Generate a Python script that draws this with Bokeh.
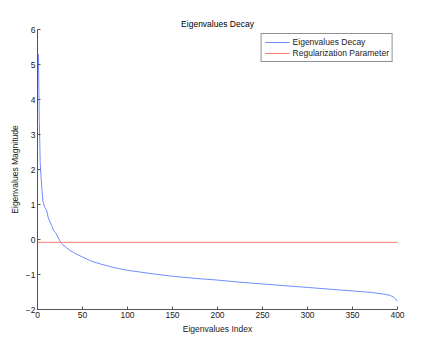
from bokeh.plotting import figure
from bokeh.models import FixedTicker, Range1d, Legend, LegendItem
from bokeh.embed import file_html
from bokeh.resources import INLINE

# Eigenvalue decay
eig_index = [1, 2, 3, 4, 5, 6, 8, 10, 12, 14, 16, 18, 20, 22, 25, 28, 32, 36, 40, 45,
             50, 60, 70, 80, 90, 100, 125, 150, 175, 200, 225, 250, 275, 300, 325,
             350, 370, 385, 392, 396, 398, 400]
eig_values = [5.3, 3.4, 2.2, 1.75, 1.4, 1.1, 0.92, 0.85, 0.62, 0.5, 0.38, 0.25, 0.2, 0.1,
              -0.05, -0.15, -0.23, -0.31, -0.37, -0.44, -0.5, -0.62, -0.7, -0.77, -0.83,
              -0.88, -0.97, -1.05, -1.11, -1.16, -1.22, -1.27, -1.32, -1.37, -1.42,
              -1.47, -1.51, -1.56, -1.6, -1.65, -1.7, -1.77]
reg_param = -0.08
reg_index = [0, 400]
reg_values = [reg_param, reg_param]

x_ticks = [0, 50, 100, 150, 200, 250, 300, 350, 400]
y_ticks = [-2, -1, 0, 1, 2, 3, 4, 5, 6]

FONT = "Liberation Sans"
FS = "8.5px"

p = figure(width=420, height=336, output_backend="svg", toolbar_location=None,
           x_range=Range1d(0, 400), y_range=Range1d(-2, 6),
           title="Eigenvalues Decay",
           min_border_left=37, min_border_right=23, min_border_top=29, min_border_bottom=23)
p.outline_line_color = None
p.grid.visible = False
p.background_fill_color = "white"
p.border_fill_color = "white"

p.title.align = "center"
p.title.text_font = FONT
p.title.text_font_size = FS
p.title.text_font_style = "normal"
p.title.text_color = "#000000"
p.title.standoff = 2

for ax in (p.xaxis[0], p.yaxis[0]):
    ax.major_tick_in = 3
    ax.major_tick_out = 0
    ax.minor_tick_line_color = None
    ax.axis_line_color = "#555555"
    ax.major_tick_line_color = "#555555"
    ax.major_label_text_font = FONT
    ax.major_label_text_font_size = FS
    ax.major_label_text_color = "#222222"
    ax.axis_label_text_font = FONT
    ax.axis_label_text_font_size = FS
    ax.axis_label_text_font_style = "normal"
    ax.axis_label_text_color = "#222222"
    ax.major_label_standoff = 2
    ax.axis_label_standoff = 3

p.xaxis.ticker = FixedTicker(ticks=x_ticks)
p.yaxis.ticker = FixedTicker(ticks=y_ticks)
p.xaxis.axis_label = "Eigenvalues Index"
p.yaxis.axis_label = "Eigenvalues Magnitude"
p.yaxis.major_label_overrides = {t: ("\u2212" + str(-t) if t < 0 else str(t)) for t in y_ticks}

r1 = p.line(eig_index, eig_values, line_color="#6f8cff", line_width=1)
r2 = p.line(reg_index, reg_values, line_color="#ff7f6f", line_width=1)

legend = Legend(items=[LegendItem(label="Eigenvalues Decay", renderers=[r1]),
                       LegendItem(label="Regularization Parameter", renderers=[r2])],
                location="top_right")
legend.margin = 4
legend.padding = 3
legend.spacing = 1
legend.glyph_width = 25
legend.glyph_height = 10
legend.label_height = 10
legend.label_standoff = 3
legend.label_text_font = FONT
legend.label_text_font_size = FS
legend.label_text_color = "#222222"
legend.border_line_color = "#222222"
legend.border_line_width = 1
legend.background_fill_alpha = 1
p.add_layout(legend)

open("out.html", "w").write(file_html(p, INLINE))
